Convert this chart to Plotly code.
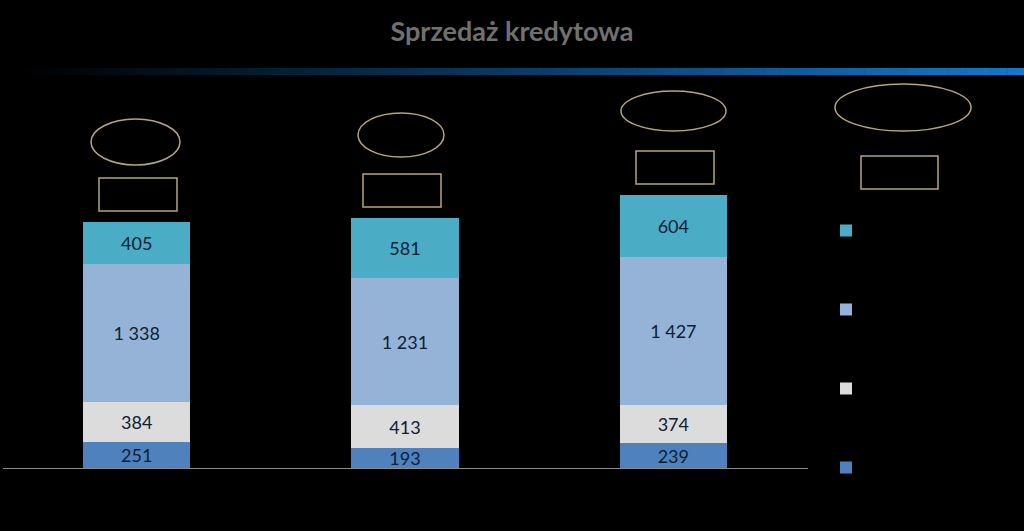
import plotly.graph_objects as go

W, H = 1024, 531

# dane
kategorie = ["2011", "2012", "2013"]
seria_nazwy = ["Kredyty hipoteczne", "Kredyty samochodowe", "Kredyty gotówkowe", "Karty kredytowe"]
seria_kolory = ["#4F81BD", "#DCDCDC", "#95B3D7", "#4BACC6"]
wartosci = [
    [251, 193, 239],
    [384, 413, 374],
    [1338, 1231, 1427],
    [405, 581, 604],
]

def fmt(v):
    return f"{v:,}".replace(",", " ")

def px_x(p):
    return p / W

def px_y(p):
    return 1 - p / H

fig = go.Figure()
for i in range(len(seria_nazwy)):
    fig.add_trace(go.Bar(
        x=kategorie,
        y=wartosci[i],
        name=seria_nazwy[i],
        legendgroup=seria_nazwy[i],
        legendrank=100 - i,  # gorna seria na gorze legendy
        marker=dict(color=seria_kolory[i], line=dict(width=0)),
        text=[fmt(v) for v in wartosci[i]],
        textposition="inside",
        insidetextanchor="middle",
        textangle=0,
        textfont=dict(family="Lato", size=18, color="#0D2135"),
        hoverinfo="skip",
    ))

shapes = []
# pasek z gradientem pod tytulem
n = 120
x0, x1 = 15, 1024
for k in range(n):
    t = k / (n - 1)
    r, g, b = int(20 * t), int(120 * t), int(204 * t)
    shapes.append(dict(
        type="rect", xref="paper", yref="paper",
        x0=px_x(x0 + (x1 - x0) * k / n), x1=px_x(x0 + (x1 - x0) * (k + 1) / n + 0.5),
        y0=px_y(75), y1=px_y(68),
        fillcolor=f"rgb({r},{g},{b})", line=dict(width=0), layer="below",
    ))

# puste ramki (elipsy i prostokaty)
elipsy = [(91, 119, 180, 165), (358, 113, 444, 157), (621, 91, 726, 131), (835, 84, 971, 131)]
ramki = [(99, 178, 177, 211), (363, 174, 441, 207), (636, 151, 714, 184), (861, 156, 938, 189)]
gold = "#B5A676"
for (a, b_, c, d) in elipsy:
    shapes.append(dict(type="circle", xref="paper", yref="paper",
                       x0=px_x(a), x1=px_x(c), y0=px_y(d), y1=px_y(b_),
                       line=dict(color=gold, width=1.5)))
for (a, b_, c, d) in ramki:
    shapes.append(dict(type="rect", xref="paper", yref="paper",
                       x0=px_x(a), x1=px_x(c), y0=px_y(d), y1=px_y(b_),
                       line=dict(color=gold, width=1.5)))

fig.update_layout(
    width=W, height=H,
    margin=dict(l=0, r=0, t=0, b=0),
    paper_bgcolor="black",
    plot_bgcolor="black",
    barmode="stack",
    bargap=0.6,
    uniformtext=dict(minsize=18, mode="show"),
    title=dict(text="<b>Sprzedaż kredytowa</b>", x=px_x(512), xanchor="center",
               y=px_y(32), yanchor="middle",
               font=dict(family="Lato", size=27, color="#707070")),
    xaxis=dict(domain=[px_x(2.5), px_x(807.5)], showline=True, linecolor="#8C8C8C",
               linewidth=1, showgrid=False, zeroline=False, ticks="",
               tickfont=dict(color="black", size=14)),
    yaxis=dict(domain=[px_y(468), px_y(80)], range=[0, 3752], visible=False),
    legend=dict(x=px_x(826), xanchor="left", y=px_y(216), yanchor="top",
                traceorder="grouped", tracegroupgap=60,
                bgcolor="rgba(0,0,0,0)",
                font=dict(family="Lato", size=12, color="black")),
    shapes=shapes,
)

fig.write_html("out.html", config={"displayModeBar": False},
               post_script="document.body.style.margin='0';document.body.style.background='black';")
